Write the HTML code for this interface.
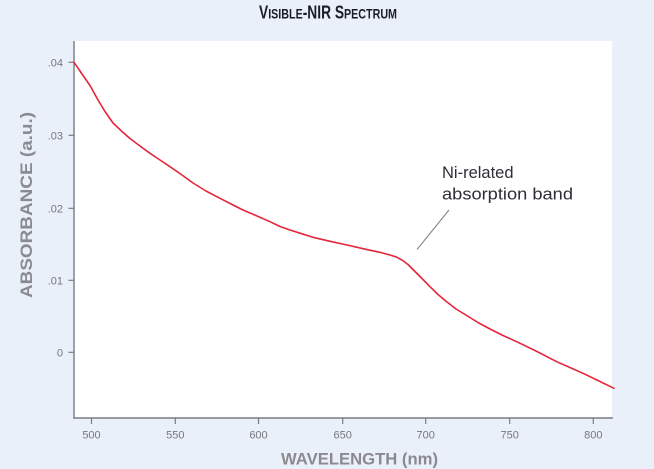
<!DOCTYPE html>
<html>
<head>
<meta charset="utf-8">
<style>
  html,body{margin:0;padding:0;background:#eaf0f9;}
  svg{display:block;}
</style>
</head>
<body>
<svg width="654" height="469" viewBox="0 0 654 469" xmlns="http://www.w3.org/2000/svg">
  <rect x="0" y="0" width="654" height="469" fill="#eaf0f9"/>
  <!-- plot area -->
  <rect x="74" y="41" width="538" height="377" fill="#ffffff"/>

  <!-- title -->
  <text x="259" y="18.5" font-family="'Liberation Sans', sans-serif" font-weight="bold" fill="#1c1c28" textLength="138" lengthAdjust="spacingAndGlyphs"><tspan font-size="18">V</tspan><tspan font-size="14">ISIBLE</tspan><tspan font-size="18">-NIR S</tspan><tspan font-size="14">PECTRUM</tspan></text>

  <!-- axes -->
  <line x1="74" y1="41" x2="74" y2="418.5" stroke="#7a7a80" stroke-width="1.4"/>
  <line x1="73.3" y1="418" x2="613" y2="418" stroke="#7a7a80" stroke-width="1.4"/>

  <!-- y ticks -->
  <g stroke="#7a7a80" stroke-width="1.2">
    <line x1="68.5" y1="62.3" x2="74" y2="62.3"/>
    <line x1="68.5" y1="135.3" x2="74" y2="135.3"/>
    <line x1="68.5" y1="208.3" x2="74" y2="208.3"/>
    <line x1="68.5" y1="280.3" x2="74" y2="280.3"/>
    <line x1="68.5" y1="352.3" x2="74" y2="352.3"/>
  </g>
  <g font-family="'Liberation Sans', sans-serif" font-size="11" fill="#77777c" text-anchor="end">
    <text x="63" y="66.3">.04</text>
    <text x="63" y="139.3">.03</text>
    <text x="63" y="212.3">.02</text>
    <text x="63" y="284.3">.01</text>
    <text x="63" y="356.3">0</text>
  </g>

  <!-- x ticks -->
  <g stroke="#7a7a80" stroke-width="1.2">
    <line x1="91.5" y1="418" x2="91.5" y2="424"/>
    <line x1="175.3" y1="418" x2="175.3" y2="424"/>
    <line x1="258.5" y1="418" x2="258.5" y2="424"/>
    <line x1="342.7" y1="418" x2="342.7" y2="424"/>
    <line x1="425.7" y1="418" x2="425.7" y2="424"/>
    <line x1="509.7" y1="418" x2="509.7" y2="424"/>
    <line x1="593.3" y1="418" x2="593.3" y2="424"/>
  </g>
  <g font-family="'Liberation Sans', sans-serif" font-size="11" fill="#77777c" text-anchor="middle">
    <text x="91.5" y="438.3">500</text>
    <text x="175.3" y="438.3">550</text>
    <text x="258.5" y="438.3">600</text>
    <text x="342.7" y="438.3">650</text>
    <text x="425.7" y="438.3">700</text>
    <text x="509.7" y="438.3">750</text>
    <text x="593.3" y="438.3">800</text>
  </g>

  <!-- axis titles -->
  <text x="281" y="464.5" font-family="'Liberation Sans', sans-serif" font-weight="bold" font-size="17" fill="#8a8a90" textLength="157" lengthAdjust="spacingAndGlyphs">WAVELENGTH (nm)</text>
  <text transform="translate(32,298) rotate(-90)" x="0" y="0" font-family="'Liberation Sans', sans-serif" font-weight="bold" font-size="17" fill="#8a8a90" textLength="186" lengthAdjust="spacingAndGlyphs">ABSORBANCE (a.u.)</text>

  <!-- spectrum curve -->
  <polyline fill="none" stroke="#e3263a" stroke-width="1.6" stroke-linejoin="round" stroke-linecap="round"
    points="74,62.3 82,74 90,85.5 98,100 105,111.5 113,123 122,131.5 130,138.5 140,146 150,153.3 160,160 170,166.7 182,175 193,183 206,191 220,198.3 232,204.5 243,210 257,216 270,221.7 280,226.5 290,230 302,233.8 313,237.3 330,241.3 347,245 363,248.7 380,252.3 390,255 397,257.3 403,260.7 408,264.5 413,269.5 421,277.5 430,286.7 438,294.5 446.7,301.7 456,309 466.7,315.5 478,322.5 490,329 503,335.5 516.7,341.7 537,351.5 556.7,361.7 570,367.5 583,373.3 598,380.5 614,388.3"/>

  <!-- annotation -->
  <line x1="417" y1="249.5" x2="449" y2="210" stroke="#808088" stroke-width="1"/>
  <g font-family="'Liberation Sans', sans-serif" font-size="16.5" fill="#2e2e36">
    <text x="442" y="178">Ni-related</text>
    <text x="442" y="199.5" textLength="131" lengthAdjust="spacingAndGlyphs">absorption band</text>
  </g>
</svg>
</body>
</html>
